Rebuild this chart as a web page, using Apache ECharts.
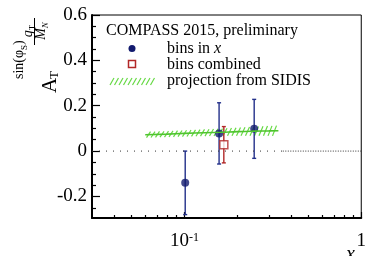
<!DOCTYPE html>
<html>
<head>
<meta charset="utf-8">
<script src="https://cdn.jsdelivr.net/npm/echarts@6/dist/echarts.min.js"></script>
<style>
html, body { margin: 0; padding: 0; background: #fff; }
#chart { width: 369px; height: 256px; }
</style>
</head>
<body>
<div id="chart"></div>
<script>
// bins in x
const binsX = [0.101, 0.157, 0.248];
const binsY = [-0.14, 0.078, 0.098];
const binsErr = [0.14, 0.135, 0.13];

// bins combined
const combX = [0.167];
const combY = [0.028];
const combErr = [0.08];

// projection from SIDIS (centre and half width of band)
const projX = [0.06, 0.08, 0.1, 0.13, 0.16, 0.2, 0.25, 0.3, 0.34];
const projY = [0.072, 0.075, 0.078, 0.081, 0.083, 0.086, 0.088, 0.089, 0.09];
const projHalf = [0.013, 0.013, 0.014, 0.015, 0.016, 0.018, 0.02, 0.022, 0.023];

// zero line: sparse dots, then dense dots
const zeroX = [0.03, 0.36, 1];

// ticks
const xMajorTicks = [0.1, 1];
const xMinorTicks = [0.04, 0.05, 0.06, 0.07, 0.08, 0.09, 0.2, 0.3, 0.4, 0.5, 0.6, 0.7, 0.8, 0.9];
const yMajorTicks = [-0.2, 0, 0.2, 0.4, 0.6];
const yMinorTicks = [-0.25, -0.15, -0.1, -0.05, 0.05, 0.1, 0.15, 0.25, 0.3, 0.35, 0.45, 0.5, 0.55];

const lg = Math.log10;
const serif = '"Liberation Serif", "DejaVu Serif", serif';
const navy = '#121a6e';
const red = '#b22828';
const green = '#66d944';

const chart = echarts.init(document.getElementById('chart'));

const errorBar = (color) => (params, api) => {
  const top = api.coord([api.value(0), api.value(2)]);
  const bot = api.coord([api.value(0), api.value(1)]);
  const st = { stroke: color, lineWidth: 1.4 };
  return {
    type: 'group',
    children: [
      { type: 'line', shape: { x1: top[0], y1: top[1], x2: bot[0], y2: bot[1] }, style: st },
      { type: 'line', shape: { x1: top[0] - 2, y1: top[1], x2: top[0] + 2, y2: top[1] }, style: st },
      { type: 'line', shape: { x1: bot[0] - 2, y1: bot[1], x2: bot[0] + 2, y2: bot[1] }, style: st }
    ]
  };
};

// hatch strokes between band points i and i+1
const hatchBand = (params, api) => {
  const i = params.dataIndex;
  if (i >= projX.length - 1) return null;
  const a = api.coord([lg(projX[i]), projY[i]]);
  const b = api.coord([lg(projX[i + 1]), projY[i + 1]]);
  const ha = a[1] - api.coord([lg(projX[i]), projY[i] + projHalf[i]])[1];
  const hb = b[1] - api.coord([lg(projX[i + 1]), projY[i + 1] + projHalf[i + 1]])[1];
  const children = [];
  const step = 4.5;
  let px = Math.ceil(a[0] / step) * step;
  for (; px < b[0]; px += step) {
    const t = (px - a[0]) / (b[0] - a[0]);
    const yc = a[1] + t * (b[1] - a[1]);
    const h = ha + t * (hb - ha);
    children.push({
      type: 'line',
      shape: { x1: px - 2, y1: yc + h, x2: px + 2, y2: yc - h },
      style: { stroke: green, lineWidth: 1.2 }
    });
  }
  return { type: 'group', children };
};

const legendHatch = [];
for (let x = 110; x < 155; x += 4.5) {
  legendHatch.push({
    type: 'line',
    shape: { x1: x, y1: 85, x2: x + 4, y2: 78 },
    style: { stroke: green, lineWidth: 1.2 }
  });
}

const rot = Math.PI / 2;
const noLine = { show: false, onZero: false };

const option = {
  animation: false,
  grid: { left: 92, right: 2, top: 15, bottom: 38, show: true, borderColor: '#000', borderWidth: 1 },
  xAxis: [
    {
      type: 'value', min: lg(0.03), max: 0, position: 'bottom',
      axisLine: { show: true, onZero: false, lineStyle: { color: '#000', width: 2 } },
      axisTick: { inside: true, length: 6, customValues: xMajorTicks.map(lg), lineStyle: { color: '#000', width: 1.2 } },
      axisLabel: {
        customValues: [-1, 0], margin: 14, color: '#000', fontFamily: serif, fontSize: 19,
        formatter: v => (Math.abs(v) < 1e-9 ? '1' : '10{sup|-1}'),
        rich: { sup: { fontSize: 12, fontFamily: serif, color: '#000', verticalAlign: 'top', lineHeight: 12 } }
      },
      splitLine: { show: false }
    },
    {
      type: 'value', min: lg(0.03), max: 0, position: 'bottom',
      axisLine: noLine,
      axisTick: { inside: true, length: 3, customValues: xMinorTicks.map(lg), lineStyle: { color: '#000', width: 1.2 } },
      axisLabel: { show: false },
      splitLine: { show: false }
    }
  ],
  yAxis: [
    {
      type: 'value', min: -0.295, max: 0.6, position: 'left',
      axisLine: { show: true, onZero: false, lineStyle: { color: '#000', width: 2 } },
      axisTick: { inside: true, length: 8, customValues: yMajorTicks, lineStyle: { color: '#000', width: 1.2 } },
      axisLabel: {
        customValues: yMajorTicks, margin: 5, color: '#000', fontFamily: serif, fontSize: 19,
        formatter: v => (Math.abs(v) < 1e-9 ? '0' : v.toFixed(1))
      },
      splitLine: { show: false }
    },
    {
      type: 'value', min: -0.295, max: 0.6, position: 'left',
      axisLine: noLine,
      axisTick: { inside: true, length: 4, customValues: yMinorTicks, lineStyle: { color: '#000', width: 1.2 } },
      axisLabel: { show: false },
      splitLine: { show: false }
    }
  ],
  series: [
    {
      type: 'line', xAxisIndex: 0, yAxisIndex: 0, showSymbol: false, silent: true,
      data: zeroX.slice(0, 2).map(x => [lg(x), 0]),
      lineStyle: { color: '#333', width: 1, type: [1, 6] }
    },
    {
      type: 'line', xAxisIndex: 0, yAxisIndex: 0, showSymbol: false, silent: true,
      data: zeroX.slice(1).map(x => [lg(x), 0]),
      lineStyle: { color: '#333', width: 1, type: [1, 1.5] }
    },
    {
      type: 'custom', xAxisIndex: 0, yAxisIndex: 0, renderItem: hatchBand,
      data: projX.map((x, i) => [lg(x), projY[i]])
    },
    {
      type: 'line', xAxisIndex: 0, yAxisIndex: 0, showSymbol: false, smooth: true,
      data: projX.map((x, i) => [lg(x), projY[i]]),
      lineStyle: { color: '#4fc42e', width: 1.6 }
    },
    {
      type: 'custom', xAxisIndex: 0, yAxisIndex: 0, renderItem: errorBar('#23308a'), clip: true,
      data: binsX.map((x, i) => [lg(x), binsY[i] - binsErr[i], binsY[i] + binsErr[i]])
    },
    {
      type: 'custom', xAxisIndex: 0, yAxisIndex: 0, renderItem: errorBar(red), clip: true,
      data: combX.map((x, i) => [lg(x), combY[i] - combErr[i], combY[i] + combErr[i]])
    },
    {
      type: 'scatter', xAxisIndex: 0, yAxisIndex: 0, symbol: 'circle', symbolSize: 8,
      data: binsX.map((x, i) => [lg(x), binsY[i]]),
      itemStyle: { color: navy }
    },
    {
      type: 'scatter', xAxisIndex: 0, yAxisIndex: 0, symbol: 'rect', symbolSize: 8,
      data: combX.map((x, i) => [lg(x), combY[i]]),
      itemStyle: { color: '#fff', borderColor: red, borderWidth: 1.5 }
    }
  ],
  graphic: [
    // legend
    { type: 'text', left: 106, top: 23, style: { text: 'COMPASS 2015, preliminary', font: '16px ' + serif, fill: '#000' } },
    { type: 'circle', shape: { cx: 132, cy: 48.5, r: 3.5 }, style: { fill: navy } },
    {
      type: 'text', left: 167, top: 41,
      style: {
        text: 'bins in {i|x}', font: '16px ' + serif, fill: '#000',
        rich: { i: { fontStyle: 'italic', fontFamily: serif, fontSize: 16 } }
      }
    },
    { type: 'rect', shape: { x: 128.5, y: 60.5, width: 7, height: 7 }, style: { fill: '#fff', stroke: red, lineWidth: 1.5 } },
    { type: 'text', left: 167, top: 57, style: { text: 'bins combined', font: '16px ' + serif, fill: '#000' } },
    { type: 'group', children: legendHatch },
    { type: 'text', left: 167, top: 73, style: { text: 'projection from SIDIS', font: '16px ' + serif, fill: '#000' } },
    // y title: A_T^{sin(phi_S) q_T/M_N}
    { type: 'text', x: 50, y: 93, rotation: rot, style: { text: 'A', font: '21px ' + serif, fill: '#000', align: 'left', verticalAlign: 'middle' } },
    { type: 'text', x: 55, y: 79, rotation: rot, style: { text: 'T', font: '13px ' + serif, fill: '#000', align: 'left', verticalAlign: 'middle' } },
    {
      type: 'text', x: 19, y: 79, rotation: rot,
      style: {
        text: 'sin(\u03C6{s|S})', font: '14px ' + serif, fill: '#000', align: 'left', verticalAlign: 'middle',
        rich: { s: { fontSize: 9, fontFamily: serif, verticalAlign: 'bottom', lineHeight: 20 } }
      }
    },
    {
      type: 'text', x: 28, y: 31, rotation: rot,
      style: {
        text: '{q|q}{s|T}', font: '14px ' + serif, fill: '#000', align: 'center', verticalAlign: 'middle',
        rich: { q: { fontStyle: 'italic', fontSize: 14, fontFamily: serif }, s: { fontSize: 9, fontFamily: serif, verticalAlign: 'bottom', lineHeight: 18 } }
      }
    },
    { type: 'line', shape: { x1: 34.5, y1: 18, x2: 34.5, y2: 45 }, style: { stroke: '#000', lineWidth: 1 } },
    {
      type: 'text', x: 41, y: 31, rotation: rot,
      style: {
        text: '{q|M}{s|N}', font: '14px ' + serif, fill: '#000', align: 'center', verticalAlign: 'middle',
        rich: { q: { fontStyle: 'italic', fontSize: 14, fontFamily: serif }, s: { fontSize: 9, fontStyle: 'italic', fontFamily: serif, verticalAlign: 'bottom', lineHeight: 18 } }
      }
    },
    // x title
    {
      type: 'text', left: 346, top: 245,
      style: {
        text: '{x|x}{n|N}', fill: '#000',
        rich: { x: { fontStyle: 'italic', fontSize: 20, fontFamily: serif }, n: { fontStyle: 'italic', fontSize: 12, fontFamily: serif, verticalAlign: 'bottom', lineHeight: 30 } }
      }
    }
  ]
};

chart.setOption(option);
</script>
</body>
</html>
